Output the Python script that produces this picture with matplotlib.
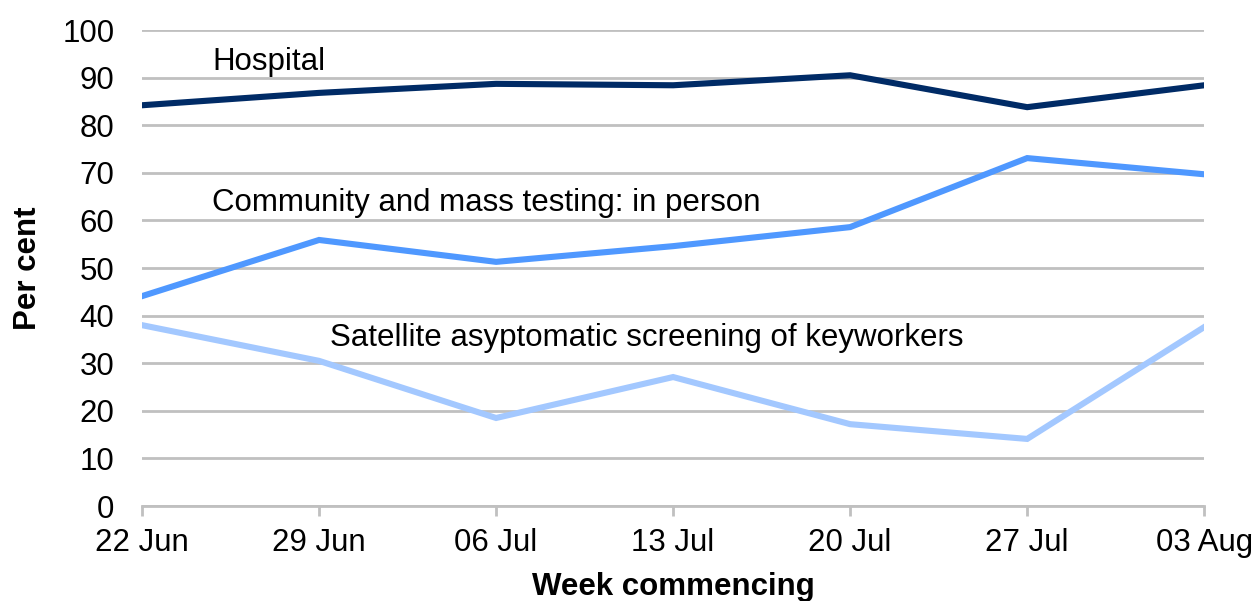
import matplotlib.pyplot as plt

plt.rcParams["font.family"] = ["Liberation Sans", "DejaVu Sans"]

# ---- datos ----
weeks = ["22 Jun", "29 Jun", "06 Jul", "13 Jul", "20 Jul", "27 Jul", "03 Aug"]
hospital = [84.2, 86.8, 88.7, 88.4, 90.5, 83.8, 88.4]
community = [44.1, 55.9, 51.3, 54.6, 58.6, 73.1, 69.7]
satellite = [38.0, 30.5, 18.5, 27.1, 17.2, 14.1, 37.6]

x = range(len(weeks))
fs = 22.5

fig = plt.figure(figsize=(12.57, 6.01), dpi=100)
ax = fig.add_axes([0.113, 0.158, 0.845, 0.792])

ax.plot(x, hospital, color="#002b66", lw=4.4, solid_joinstyle="miter")
ax.plot(x, community, color="#4f98ff", lw=4.4, solid_joinstyle="miter")
ax.plot(x, satellite, color="#a3c8ff", lw=4.4, solid_joinstyle="miter")

# etiquetas de series
ax.text(0.395, 93.3, "Hospital", fontsize=fs, va="center", ha="left")
ax.text(0.395, 63.7, "Community and mass testing: in person", fontsize=fs, va="center", ha="left")
ax.text(1.06, 35.3, "Satellite asyptomatic screening of keyworkers", fontsize=fs, va="center", ha="left")

ax.set_xlim(0, len(weeks) - 1)
ax.set_ylim(0, 100)
ax.set_yticks(range(0, 101, 10))
ax.set_xticks(list(x))
ax.set_xticklabels(weeks)

ax.grid(axis="y", color="#c0c0c0", lw=2)
ax.set_axisbelow(True)
for s in ["top", "right", "left"]:
    ax.spines[s].set_visible(False)
ax.spines["bottom"].set_color("#c0c0c0")
ax.spines["bottom"].set_linewidth(2)

ax.tick_params(axis="y", length=0, labelsize=fs, pad=20)
ax.tick_params(axis="x", length=7, width=2, color="#c0c0c0", labelsize=fs, pad=9)

ax.set_ylabel("Per cent", fontsize=fs, fontweight="bold", labelpad=14)
ax.set_xlabel("Week commencing", fontsize=fs, fontweight="bold", labelpad=10)

fig.savefig("out.png", dpi=100)
